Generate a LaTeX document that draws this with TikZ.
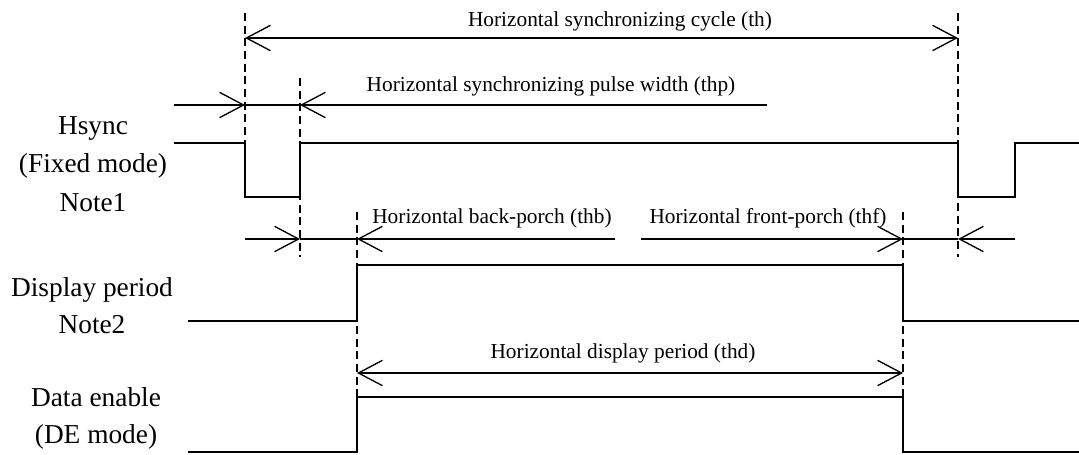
\documentclass[tikz,border=0pt]{standalone}
\usepackage{fontspec}
\setmainfont{Liberation Serif}
\usetikzlibrary{arrows.meta}
\tikzstyle{signal}=[line width=1.4pt]
\tikzstyle{guide}=[line width=0.9pt, dash pattern=on 6pt off 3.5pt]
\tikzstyle{dimline}=[line width=1pt]
\tikzstyle{tip}=[-{Straight Barb[length=18pt,width=19pt,line width=1pt]}]
\tikzstyle{biarrow}=[{Straight Barb[length=18pt,width=19pt,line width=1pt]}-{Straight Barb[length=18pt,width=19pt,line width=1pt]}]
\tikzstyle{toplabel}=[font=\fontsize{16}{19}\selectfont, anchor=base, inner sep=0pt]
\tikzstyle{signame}=[font=\fontsize{20.5}{28}\selectfont, anchor=base, inner sep=0pt]
\newcommand{\vguide}[3]{
	\draw[guide] (#1,#2) -- (#1,#3);
}

\begin{document}
\begin{tikzpicture}[x=0.75pt,y=-0.75pt]
	\useasboundingbox (0,0) rectangle (1079,454);
	% dashed timing guides
	\vguide{245}{13}{197}
	\vguide{300}{78}{257}
	\vguide{357}{212}{452}
	\vguide{903}{212}{452}
	\vguide{958}{13}{257}
	% signals
	\draw[signal] (174,143) -- (245,143) -- (245,197) -- (300,197) -- (300,143) -- (958,143) -- (958,197) -- (1015,197) -- (1015,143) -- (1079,143);
	\draw[signal] (188,321) -- (357,321) -- (357,265) -- (903,265) -- (903,321) -- (1079,321);
	\draw[signal] (188,452) -- (357,452) -- (357,397) -- (903,397) -- (903,452) -- (1079,452);
	% th
	\draw[dimline,biarrow] (245,38) -- (958,38);
	% thp
	\draw[dimline,tip] (174,105) -- (245,105);
	\draw[dimline] (245,105) -- (300,105);
	\draw[dimline,tip] (767,105) -- (300,105);
	% thb, thf
	\draw[dimline,tip] (245,239) -- (300,239);
	\draw[dimline] (300,239) -- (357,239);
	\draw[dimline,tip] (615,239) -- (357,239);
	\draw[dimline,tip] (641,239) -- (903,239);
	\draw[dimline] (903,239) -- (958,239);
	\draw[dimline,tip] (1015,239) -- (958,239);
	% thd
	\draw[dimline,biarrow] (357,373) -- (903,373);
	% labels
	\node[toplabel] (th) at (620,26) {Horizontal synchronizing cycle (th)};
	\node[toplabel] (thp) at (551,91) {Horizontal synchronizing pulse width (thp)};
	\node[toplabel] (thb) at (492,223) {Horizontal back-porch (thb)};
	\node[toplabel] (thf) at (768,223) {Horizontal front-porch (thf)};
	\node[toplabel] (thd) at (623,358) {Horizontal display period (thd)};
	\node[signame] (hsa) at (93,134) {Hsync};
	\node[signame] (hsb) at (93,172) {(Fixed mode)};
	\node[signame] (hsc) at (93,211) {Note1};
	\node[signame] (dpa) at (92,296) {Display period};
	\node[signame] (dpb) at (92,333) {Note2};
	\node[signame] (dea) at (96,406) {Data enable};
	\node[signame] (deb) at (96,443) {(DE mode)};
\end{tikzpicture}
\end{document}
